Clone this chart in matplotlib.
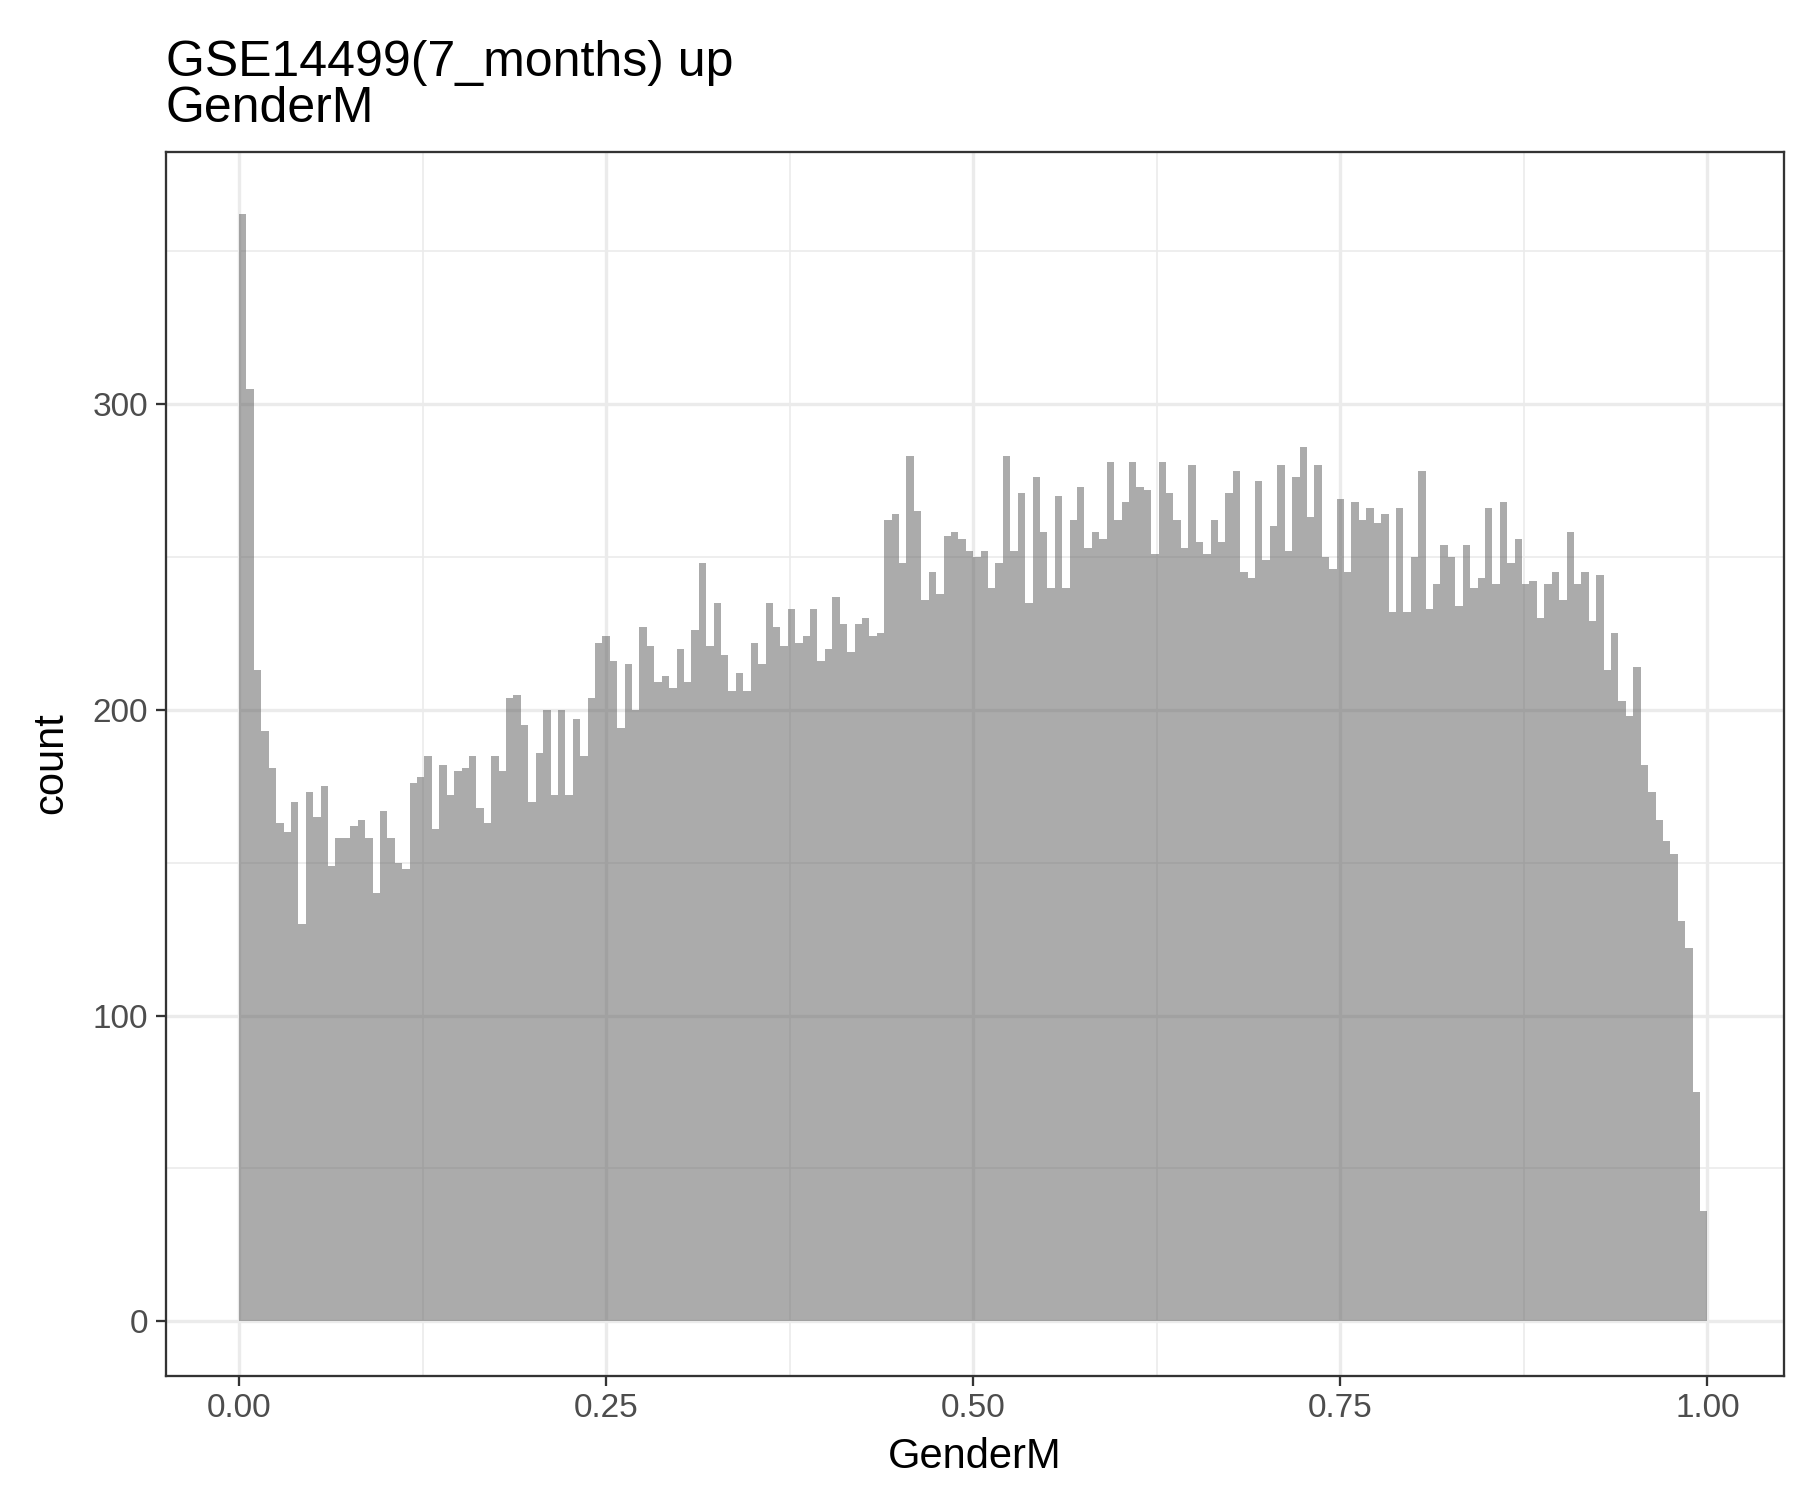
import matplotlib
matplotlib.use("Agg")
import matplotlib.pyplot as plt
import numpy as np

plt.rcParams['font.family'] = ['Liberation Sans', 'DejaVu Sans']

title = "GSE14499(7_months) up\nGenderM"
xlabel = "GenderM"
ylabel = "count"

counts = [
    362, 305, 213, 193, 181, 163, 160, 170, 130, 173,
    165, 175, 149, 158, 158, 162, 164, 158, 140, 167,
    158, 150, 148, 176, 178, 185, 161, 182, 172, 180,
    181, 185, 168, 163, 185, 180, 204, 205, 195, 170,
    186, 200, 172, 200, 172, 197, 185, 204, 222, 224,
    216, 194, 215, 200, 227, 221, 209, 211, 207, 220,
    209, 226, 248, 221, 235, 218, 206, 212, 206, 222,
    215, 235, 227, 221, 233, 222, 224, 233, 216, 220,
    237, 228, 219, 228, 230, 224, 225, 262, 264, 248,
    283, 265, 236, 245, 238, 257, 258, 256, 252, 250,
    252, 240, 248, 283, 252, 271, 235, 276, 258, 240,
    270, 240, 262, 273, 253, 258, 256, 281, 262, 268,
    281, 273, 272, 251, 281, 271, 262, 253, 280, 255,
    251, 262, 255, 271, 278, 245, 243, 275, 249, 260,
    280, 252, 276, 286, 263, 280, 250, 246, 269, 245,
    268, 262, 266, 261, 264, 232, 266, 232, 250, 278,
    233, 241, 254, 250, 234, 254, 240, 243, 266, 241,
    268, 248, 256, 241, 242, 230, 241, 245, 236, 258,
    241, 245, 229, 244, 213, 225, 203, 198, 214, 182,
    173, 164, 157, 153, 131, 122, 75, 36,
]

counts = np.array(counts)
edges = np.linspace(0, 1, len(counts) + 1)

fig = plt.figure(figsize=(12, 10), dpi=150)
ax = fig.add_axes([0.092, 0.083, 0.899, 0.816])

ax.bar(edges[:-1], counts, width=np.diff(edges), align='edge',
       color='#595959', alpha=0.5, linewidth=0, zorder=2)

ax.set_xlim(-0.050, 1.052)
ax.set_ylim(-17.7, 382.6)
ax.set_xticks([0, 0.25, 0.5, 0.75, 1.0])
ax.set_xticklabels(['0.00', '0.25', '0.50', '0.75', '1.00'])
ax.set_yticks([0, 100, 200, 300])
ax.set_xticks([0.125, 0.375, 0.625, 0.875], minor=True)
ax.set_yticks([50, 150, 250, 350], minor=True)
ax.grid(which='major', color='#EBEBEB', linewidth=1.6, zorder=0)
ax.grid(which='minor', color='#EBEBEB', linewidth=0.8, zorder=0)
ax.set_axisbelow(True)
ax.tick_params(which='minor', length=0)
ax.tick_params(which='major', length=5, width=1.1, color='#333333',
               labelsize=16, labelcolor='#4D4D4D')
for s in ax.spines.values():
    s.set_color('#333333')
    s.set_linewidth(1.1)

ax.set_xlabel(xlabel, fontsize=20, labelpad=6)
ax.set_ylabel(ylabel, fontsize=20, labelpad=10)
ax.set_title(title, fontsize=24, loc='left', ha='left', x=0.0, pad=14,
             linespacing=1.0)

fig.savefig("out.png", dpi=150)
